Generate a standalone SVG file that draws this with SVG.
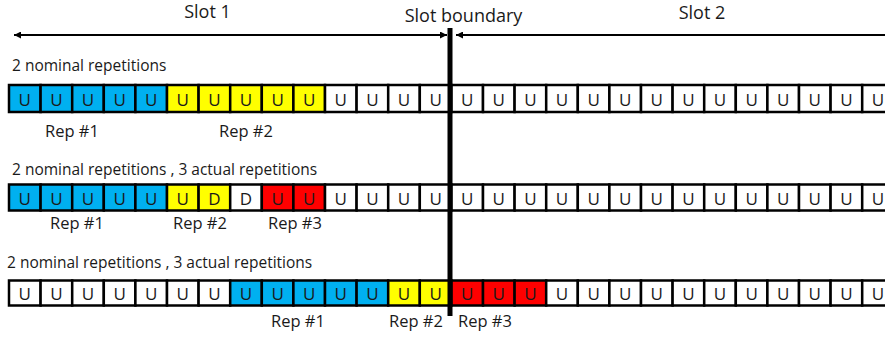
<svg xmlns="http://www.w3.org/2000/svg" width="885" height="337" viewBox="0 0 885 337">
<style>
.c{stroke:#000;stroke-width:2.5}
.b{fill:#00B0F0}.y{fill:#FFFF00}.r{fill:#FF0000}.w{fill:#FFFFFF}
.u{font-family:"Open Sans","Noto Sans",sans-serif;font-size:17px;text-anchor:middle;fill:#1a1a1a}
.h{font-family:"Open Sans","Noto Sans",sans-serif;font-size:15.5px;fill:#1a1a1a}
.l{font-family:"Open Sans","Noto Sans",sans-serif;font-size:16.5px;text-anchor:middle;fill:#1a1a1a}
.s{font-family:"Open Sans","Noto Sans",sans-serif;font-size:18px;text-anchor:middle;fill:#1a1a1a}
.a{stroke:#000;stroke-width:2;fill:none}
</style>
<defs>
<marker id="ah" viewBox="0 0 10 10" refX="10" refY="5" markerWidth="4" markerHeight="3.5" orient="auto-start-reverse"><path d="M0,0 L10,5 L0,10 z" fill="#000"/></marker>
</defs>
<rect width="885" height="337" fill="#fff"/>
<g id="titles">
<text class="s" x="207.5" y="18">Slot 1</text>
<text class="s" x="463.5" y="21.5">Slot boundary</text>
<text class="s" x="702" y="18.5">Slot 2</text>
</g>
<g id="headers">
<text class="h" x="12" y="71">2 nominal repetitions</text>
<text class="h" x="12" y="175">2 nominal repetitions , 3 actual repetitions</text>
<text class="h" x="7" y="268">2 nominal repetitions , 3 actual repetitions</text>
</g>
<g id="row1">
<g id="r1c0"><rect class="c b" x="9" y="85" width="31.6" height="27"/><text class="u" x="24.8" y="105.5">U</text></g>
<g id="r1c1"><rect class="c b" x="40.6" y="85" width="31.6" height="27"/><text class="u" x="56.4" y="105.5">U</text></g>
<g id="r1c2"><rect class="c b" x="72.2" y="85" width="31.6" height="27"/><text class="u" x="88" y="105.5">U</text></g>
<g id="r1c3"><rect class="c b" x="103.8" y="85" width="31.6" height="27"/><text class="u" x="119.6" y="105.5">U</text></g>
<g id="r1c4"><rect class="c b" x="135.4" y="85" width="31.6" height="27"/><text class="u" x="151.2" y="105.5">U</text></g>
<g id="r1c5"><rect class="c y" x="167" y="85" width="31.6" height="27"/><text class="u" x="182.8" y="105.5">U</text></g>
<g id="r1c6"><rect class="c y" x="198.6" y="85" width="31.6" height="27"/><text class="u" x="214.4" y="105.5">U</text></g>
<g id="r1c7"><rect class="c y" x="230.2" y="85" width="31.6" height="27"/><text class="u" x="246" y="105.5">U</text></g>
<g id="r1c8"><rect class="c y" x="261.8" y="85" width="31.6" height="27"/><text class="u" x="277.6" y="105.5">U</text></g>
<g id="r1c9"><rect class="c y" x="293.4" y="85" width="31.6" height="27"/><text class="u" x="309.2" y="105.5">U</text></g>
<g id="r1c10"><rect class="c w" x="325" y="85" width="31.6" height="27"/><text class="u" x="340.8" y="105.5">U</text></g>
<g id="r1c11"><rect class="c w" x="356.6" y="85" width="31.6" height="27"/><text class="u" x="372.4" y="105.5">U</text></g>
<g id="r1c12"><rect class="c w" x="388.2" y="85" width="31.6" height="27"/><text class="u" x="404" y="105.5">U</text></g>
<g id="r1c13"><rect class="c w" x="419.8" y="85" width="31.6" height="27"/><text class="u" x="435.6" y="105.5">U</text></g>
<g id="r1c14"><rect class="c w" x="451.4" y="85" width="31.6" height="27"/><text class="u" x="467.2" y="105.5">U</text></g>
<g id="r1c15"><rect class="c w" x="483" y="85" width="31.6" height="27"/><text class="u" x="498.8" y="105.5">U</text></g>
<g id="r1c16"><rect class="c w" x="514.6" y="85" width="31.6" height="27"/><text class="u" x="530.4" y="105.5">U</text></g>
<g id="r1c17"><rect class="c w" x="546.2" y="85" width="31.6" height="27"/><text class="u" x="562" y="105.5">U</text></g>
<g id="r1c18"><rect class="c w" x="577.8" y="85" width="31.6" height="27"/><text class="u" x="593.6" y="105.5">U</text></g>
<g id="r1c19"><rect class="c w" x="609.4" y="85" width="31.6" height="27"/><text class="u" x="625.2" y="105.5">U</text></g>
<g id="r1c20"><rect class="c w" x="641" y="85" width="31.6" height="27"/><text class="u" x="656.8" y="105.5">U</text></g>
<g id="r1c21"><rect class="c w" x="672.6" y="85" width="31.6" height="27"/><text class="u" x="688.4" y="105.5">U</text></g>
<g id="r1c22"><rect class="c w" x="704.2" y="85" width="31.6" height="27"/><text class="u" x="720" y="105.5">U</text></g>
<g id="r1c23"><rect class="c w" x="735.8" y="85" width="31.6" height="27"/><text class="u" x="751.6" y="105.5">U</text></g>
<g id="r1c24"><rect class="c w" x="767.4" y="85" width="31.6" height="27"/><text class="u" x="783.2" y="105.5">U</text></g>
<g id="r1c25"><rect class="c w" x="799" y="85" width="31.6" height="27"/><text class="u" x="814.8" y="105.5">U</text></g>
<g id="r1c26"><rect class="c w" x="830.6" y="85" width="31.6" height="27"/><text class="u" x="846.4" y="105.5">U</text></g>
<g id="r1c27"><rect class="c w" x="862.2" y="85" width="31.6" height="27"/><text class="u" x="878" y="105.5">U</text></g>
</g>
<g id="row2">
<g id="r2c0"><rect class="c b" x="9" y="184.5" width="31.6" height="26"/><text class="u" x="24.8" y="204.5">U</text></g>
<g id="r2c1"><rect class="c b" x="40.6" y="184.5" width="31.6" height="26"/><text class="u" x="56.4" y="204.5">U</text></g>
<g id="r2c2"><rect class="c b" x="72.2" y="184.5" width="31.6" height="26"/><text class="u" x="88" y="204.5">U</text></g>
<g id="r2c3"><rect class="c b" x="103.8" y="184.5" width="31.6" height="26"/><text class="u" x="119.6" y="204.5">U</text></g>
<g id="r2c4"><rect class="c b" x="135.4" y="184.5" width="31.6" height="26"/><text class="u" x="151.2" y="204.5">U</text></g>
<g id="r2c5"><rect class="c y" x="167" y="184.5" width="31.6" height="26"/><text class="u" x="182.8" y="204.5">U</text></g>
<g id="r2c6"><rect class="c y" x="198.6" y="184.5" width="31.6" height="26"/><text class="u" x="214.4" y="204.5">D</text></g>
<g id="r2c7"><rect class="c w" x="230.2" y="184.5" width="31.6" height="26"/><text class="u" x="246" y="204.5">D</text></g>
<g id="r2c8"><rect class="c r" x="261.8" y="184.5" width="31.6" height="26"/><text class="u" x="277.6" y="204.5">U</text></g>
<g id="r2c9"><rect class="c r" x="293.4" y="184.5" width="31.6" height="26"/><text class="u" x="309.2" y="204.5">U</text></g>
<g id="r2c10"><rect class="c w" x="325" y="184.5" width="31.6" height="26"/><text class="u" x="340.8" y="204.5">U</text></g>
<g id="r2c11"><rect class="c w" x="356.6" y="184.5" width="31.6" height="26"/><text class="u" x="372.4" y="204.5">U</text></g>
<g id="r2c12"><rect class="c w" x="388.2" y="184.5" width="31.6" height="26"/><text class="u" x="404" y="204.5">U</text></g>
<g id="r2c13"><rect class="c w" x="419.8" y="184.5" width="31.6" height="26"/><text class="u" x="435.6" y="204.5">U</text></g>
<g id="r2c14"><rect class="c w" x="451.4" y="184.5" width="31.6" height="26"/><text class="u" x="467.2" y="204.5">U</text></g>
<g id="r2c15"><rect class="c w" x="483" y="184.5" width="31.6" height="26"/><text class="u" x="498.8" y="204.5">U</text></g>
<g id="r2c16"><rect class="c w" x="514.6" y="184.5" width="31.6" height="26"/><text class="u" x="530.4" y="204.5">U</text></g>
<g id="r2c17"><rect class="c w" x="546.2" y="184.5" width="31.6" height="26"/><text class="u" x="562" y="204.5">U</text></g>
<g id="r2c18"><rect class="c w" x="577.8" y="184.5" width="31.6" height="26"/><text class="u" x="593.6" y="204.5">U</text></g>
<g id="r2c19"><rect class="c w" x="609.4" y="184.5" width="31.6" height="26"/><text class="u" x="625.2" y="204.5">U</text></g>
<g id="r2c20"><rect class="c w" x="641" y="184.5" width="31.6" height="26"/><text class="u" x="656.8" y="204.5">U</text></g>
<g id="r2c21"><rect class="c w" x="672.6" y="184.5" width="31.6" height="26"/><text class="u" x="688.4" y="204.5">U</text></g>
<g id="r2c22"><rect class="c w" x="704.2" y="184.5" width="31.6" height="26"/><text class="u" x="720" y="204.5">U</text></g>
<g id="r2c23"><rect class="c w" x="735.8" y="184.5" width="31.6" height="26"/><text class="u" x="751.6" y="204.5">U</text></g>
<g id="r2c24"><rect class="c w" x="767.4" y="184.5" width="31.6" height="26"/><text class="u" x="783.2" y="204.5">U</text></g>
<g id="r2c25"><rect class="c w" x="799" y="184.5" width="31.6" height="26"/><text class="u" x="814.8" y="204.5">U</text></g>
<g id="r2c26"><rect class="c w" x="830.6" y="184.5" width="31.6" height="26"/><text class="u" x="846.4" y="204.5">U</text></g>
<g id="r2c27"><rect class="c w" x="862.2" y="184.5" width="31.6" height="26"/><text class="u" x="878" y="204.5">U</text></g>
</g>
<g id="row3">
<g id="r3c0"><rect class="c w" x="9" y="280.5" width="31.6" height="25"/><text class="u" x="24.8" y="299.5">U</text></g>
<g id="r3c1"><rect class="c w" x="40.6" y="280.5" width="31.6" height="25"/><text class="u" x="56.4" y="299.5">U</text></g>
<g id="r3c2"><rect class="c w" x="72.2" y="280.5" width="31.6" height="25"/><text class="u" x="88" y="299.5">U</text></g>
<g id="r3c3"><rect class="c w" x="103.8" y="280.5" width="31.6" height="25"/><text class="u" x="119.6" y="299.5">U</text></g>
<g id="r3c4"><rect class="c w" x="135.4" y="280.5" width="31.6" height="25"/><text class="u" x="151.2" y="299.5">U</text></g>
<g id="r3c5"><rect class="c w" x="167" y="280.5" width="31.6" height="25"/><text class="u" x="182.8" y="299.5">U</text></g>
<g id="r3c6"><rect class="c w" x="198.6" y="280.5" width="31.6" height="25"/><text class="u" x="214.4" y="299.5">U</text></g>
<g id="r3c7"><rect class="c b" x="230.2" y="280.5" width="31.6" height="25"/><text class="u" x="246" y="299.5">U</text></g>
<g id="r3c8"><rect class="c b" x="261.8" y="280.5" width="31.6" height="25"/><text class="u" x="277.6" y="299.5">U</text></g>
<g id="r3c9"><rect class="c b" x="293.4" y="280.5" width="31.6" height="25"/><text class="u" x="309.2" y="299.5">U</text></g>
<g id="r3c10"><rect class="c b" x="325" y="280.5" width="31.6" height="25"/><text class="u" x="340.8" y="299.5">U</text></g>
<g id="r3c11"><rect class="c b" x="356.6" y="280.5" width="31.6" height="25"/><text class="u" x="372.4" y="299.5">U</text></g>
<g id="r3c12"><rect class="c y" x="388.2" y="280.5" width="31.6" height="25"/><text class="u" x="404" y="299.5">U</text></g>
<g id="r3c13"><rect class="c y" x="419.8" y="280.5" width="31.6" height="25"/><text class="u" x="435.6" y="299.5">U</text></g>
<g id="r3c14"><rect class="c r" x="451.4" y="280.5" width="31.6" height="25"/><text class="u" x="467.2" y="299.5">U</text></g>
<g id="r3c15"><rect class="c r" x="483" y="280.5" width="31.6" height="25"/><text class="u" x="498.8" y="299.5">U</text></g>
<g id="r3c16"><rect class="c r" x="514.6" y="280.5" width="31.6" height="25"/><text class="u" x="530.4" y="299.5">U</text></g>
<g id="r3c17"><rect class="c w" x="546.2" y="280.5" width="31.6" height="25"/><text class="u" x="562" y="299.5">U</text></g>
<g id="r3c18"><rect class="c w" x="577.8" y="280.5" width="31.6" height="25"/><text class="u" x="593.6" y="299.5">U</text></g>
<g id="r3c19"><rect class="c w" x="609.4" y="280.5" width="31.6" height="25"/><text class="u" x="625.2" y="299.5">U</text></g>
<g id="r3c20"><rect class="c w" x="641" y="280.5" width="31.6" height="25"/><text class="u" x="656.8" y="299.5">U</text></g>
<g id="r3c21"><rect class="c w" x="672.6" y="280.5" width="31.6" height="25"/><text class="u" x="688.4" y="299.5">U</text></g>
<g id="r3c22"><rect class="c w" x="704.2" y="280.5" width="31.6" height="25"/><text class="u" x="720" y="299.5">U</text></g>
<g id="r3c23"><rect class="c w" x="735.8" y="280.5" width="31.6" height="25"/><text class="u" x="751.6" y="299.5">U</text></g>
<g id="r3c24"><rect class="c w" x="767.4" y="280.5" width="31.6" height="25"/><text class="u" x="783.2" y="299.5">U</text></g>
<g id="r3c25"><rect class="c w" x="799" y="280.5" width="31.6" height="25"/><text class="u" x="814.8" y="299.5">U</text></g>
<g id="r3c26"><rect class="c w" x="830.6" y="280.5" width="31.6" height="25"/><text class="u" x="846.4" y="299.5">U</text></g>
<g id="r3c27"><rect class="c w" x="862.2" y="280.5" width="31.6" height="25"/><text class="u" x="878" y="299.5">U</text></g>
</g>
<g id="labels">
<text class="l" x="72" y="137">Rep #1</text>
<text class="l" x="246" y="137">Rep #2</text>
<text class="l" x="77" y="229">Rep #1</text>
<text class="l" x="200" y="229">Rep #2</text>
<text class="l" x="295" y="229">Rep #3</text>
<text class="l" x="298" y="327">Rep #1</text>
<text class="l" x="416" y="327">Rep #2</text>
<text class="l" x="485" y="327">Rep #3</text>
</g>
<g id="connectors">
<line class="a" x1="14" y1="35" x2="447" y2="35" marker-start="url(#ah)" marker-end="url(#ah)"/>
<line class="a" x1="456" y1="35" x2="890" y2="35" marker-start="url(#ah)"/>
<line id="boundary" x1="450" y1="28" x2="450" y2="316" stroke="#000" stroke-width="5"/>
</g>
</svg>
